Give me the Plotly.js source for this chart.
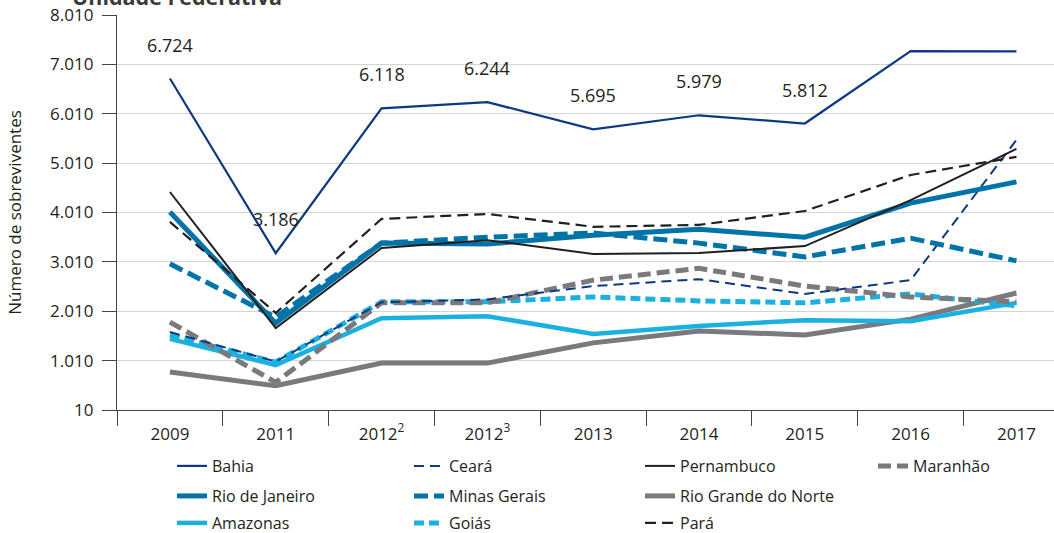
<!DOCTYPE html>
<html>
<head>
<meta charset="utf-8">
<script src="https://cdn.plot.ly/plotly-3.0.1.min.js"></script>
<style>html,body{margin:0;padding:0;background:#fff;}#chart{width:1054px;height:533px;}</style>
</head>
<body>
<div id="chart"></div>
<script>
var categories = ["2009", "2011", "2012<sup>2</sup>", "2012<sup>3</sup>", "2013", "2014", "2015", "2016", "2017"];

var bahia        = [6724, 3186, 6118, 6244, 5695, 5979, 5812, 7280, 7275];
var ceara        = [1590, 990, 2190, 2250, 2520, 2660, 2360, 2640, 5480];
var pernambuco   = [4425, 1670, 3290, 3450, 3170, 3190, 3330, 4260, 5300];
var maranhao     = [1790, 570, 2180, 2180, 2640, 2880, 2520, 2300, 2200];
var rioDeJaneiro = [4020, 1770, 3390, 3370, 3550, 3670, 3510, 4200, 4630];
var minasGerais  = [2970, 1890, 3390, 3510, 3595, 3390, 3110, 3490, 3030];
var rioGrandeN   = [780, 500, 960, 960, 1370, 1610, 1530, 1850, 2380];
var amazonas     = [1450, 920, 1870, 1910, 1550, 1710, 1830, 1810, 2180];
var goias        = [1530, 980, 2200, 2200, 2300, 2220, 2180, 2360, 2120];
var para         = [3820, 1975, 3880, 3980, 3720, 3760, 4040, 4770, 5135];

var bahiaLabelCount = 7;

var yTickVals = [10, 1010, 2010, 3010, 4010, 5010, 6010, 7010, 8010];
var yTickText = ["10", "1.010", "2.010", "3.010", "4.010", "5.010", "6.010", "7.010", "8.010"];

function fmt(v) {
  var s = String(Math.round(v));
  return s.replace(/\B(?=(\d{3})+(?!\d))/g, ".");
}

var NAVY = "#0b3a83", BLACK = "#231f20", GREY = "#7a7a7e", BLUE = "#0073a8", LIGHT = "#1ab0e0";

var series = [
  {name: "Bahia", y: bahia, color: NAVY, width: 2.2, dash: "solid", legend: "legend"},
  {name: "Ceará", y: ceara, color: NAVY, width: 2, dash: "10px,6px", legend: "legend4"},
  {name: "Pernambuco", y: pernambuco, color: BLACK, width: 2, dash: "solid", legend: "legend7"},
  {name: "Maranhão", y: maranhao, color: GREY, width: 5, dash: "13px,6px", legend: "legend10"},
  {name: "Rio de Janeiro", y: rioDeJaneiro, color: BLUE, width: 5, dash: "solid", legend: "legend2"},
  {name: "Minas Gerais", y: minasGerais, color: BLUE, width: 5, dash: "14px,6px", legend: "legend5"},
  {name: "Rio Grande do Norte", y: rioGrandeN, color: GREY, width: 5, dash: "solid", legend: "legend8"},
  {name: "Amazonas", y: amazonas, color: LIGHT, width: 4.5, dash: "solid", legend: "legend3"},
  {name: "Goiás", y: goias, color: LIGHT, width: 5, dash: "10px,5px", legend: "legend6"},
  {name: "Pará", y: para, color: BLACK, width: 2.2, dash: "11px,6px", legend: "legend9"}
];

var drawOrder = [6, 7, 8, 3, 1, 5, 4, 2, 9, 0];
var traces = drawOrder.map(function(i) {
  var s = series[i];
  return {
    type: "scatter", mode: "lines", name: s.name,
    x: categories, y: s.y,
    line: {color: s.color, width: s.width, dash: s.dash},
    legend: s.legend, hoverinfo: "skip"
  };
});

var annotations = [];
for (var i = 0; i < bahiaLabelCount; i++) {
  annotations.push({
    x: i, y: bahia[i], xref: "x", yref: "y",
    text: fmt(bahia[i]), showarrow: false, yanchor: "bottom", yshift: 20,
    font: {family: "Open Sans", size: 18, color: BLACK}
  });
}
annotations.push({
  x: (70 - 117) / 937, y: 1, xref: "paper", yref: "paper", xanchor: "left", yanchor: "bottom",
  text: "<b>Unidade Federativa</b>", showarrow: false, yshift: 2,
  font: {family: "Open Sans", size: 21.5, color: "#3a3a3a"}
});

var W = 937, H = 395;
function lx(px) { return (px - 117) / W; }
function ly(py) { return (410 - py) / H; }
var colX = [172, 409, 640, 873];
var rowY = [466, 496, 523];
var legendAssign = [
  ["legend", 0, 0], ["legend2", 0, 1], ["legend3", 0, 2],
  ["legend4", 1, 0], ["legend5", 1, 1], ["legend6", 1, 2],
  ["legend7", 2, 0], ["legend8", 2, 1], ["legend9", 2, 2],
  ["legend10", 3, 0]
];

var layout = {
  width: 1054, height: 533,
  margin: {l: 117, r: 0, t: 15, b: 123, pad: 0, autoexpand: false},
  paper_bgcolor: "#fff", plot_bgcolor: "#fff",
  font: {family: "Open Sans", color: BLACK},
  showlegend: true,
  xaxis: {
    type: "category", range: [-0.5, 8.355], tickson: "boundaries",
    ticks: "outside", ticklen: 15, tickcolor: "#444", tickwidth: 1,
    ticklabelstandoff: 8,
    showline: true, linecolor: "#444", linewidth: 1.2,
    showgrid: false, zeroline: false,
    tickfont: {family: "Open Sans", size: 17, color: BLACK}, fixedrange: true
  },
  yaxis: {
    range: [10, 8010], tickvals: yTickVals, ticktext: yTickText,
    ticks: "outside", ticklen: 14, tickcolor: "#444", tickwidth: 1,
    ticklabelstandoff: 5,
    showline: true, linecolor: "#444", linewidth: 1.2,
    showgrid: true, gridcolor: "#d4d4d4", gridwidth: 1.2, zeroline: false,
    tickfont: {family: "Open Sans", size: 17, color: BLACK},
    title: {text: "Número de sobreviventes", font: {family: "Open Sans", size: 17, color: BLACK}, standoff: 24},
    fixedrange: true
  },
  annotations: annotations
};

legendAssign.forEach(function(a) {
  layout[a[0]] = {
    x: lx(colX[a[1]]), y: ly(rowY[a[2]]), xanchor: "left", yanchor: "middle",
    orientation: "v", bgcolor: "rgba(0,0,0,0)", borderwidth: 0, itemwidth: 30,
    font: {family: "Open Sans", size: 16, color: BLACK}, itemclick: false, itemdoubleclick: false
  };
});

Plotly.newPlot("chart", traces, layout, {displayModeBar: false, staticPlot: true});
</script>
</body>
</html>
